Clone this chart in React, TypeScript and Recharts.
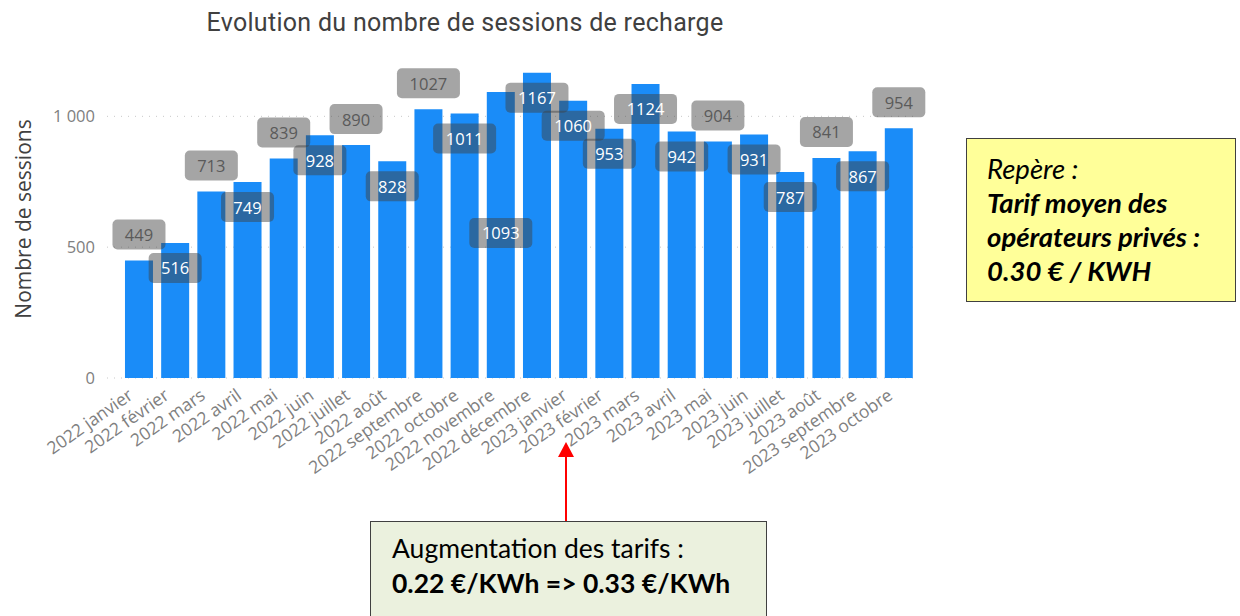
import { Bar, BarChart, CartesianGrid, LabelList, XAxis, YAxis } from "recharts";

const months = [
    "2022 janvier", "2022 février", "2022 mars", "2022 avril", "2022 mai", "2022 juin",
    "2022 juillet", "2022 août", "2022 septembre", "2022 octobre", "2022 novembre", "2022 décembre",
    "2023 janvier", "2023 février", "2023 mars", "2023 avril", "2023 mai", "2023 juin",
    "2023 juillet", "2023 août", "2023 septembre", "2023 octobre",
];

const sessions = [
    449, 516, 713, 749, 839, 928, 890, 828, 1027, 1011, 1093, 1167,
    1060, 953, 1124, 942, 904, 931, 787, 841, 867, 954,
];

const yTicks = [0, 500, 1000];

// where Power BI put each data label
const labelPlacement = [
    "above", "inside", "above", "inside", "above", "inside", "above", "inside", "above", "inside", "low", "inside",
    "inside", "inside", "inside", "inside", "above", "inside", "inside", "above", "inside", "above",
];

const data = months.map((month, i) => ({ month, value: sessions[i] }));

const BLUE = "#1A8CF8";

function ValueLabel(props: any) {
    const { x, y, width, value } = props;
    let index = props.index;
    if (index === undefined) index = sessions.indexOf(value);
    const place = labelPlacement[index];
    const cx = x + width / 2;
    const cy = place === "above" ? y - 26 : place === "low" ? y + 141 : y + 25;
    const w = String(value).length > 3 ? 63 : 53;
    const h = 30;
    return (
        <g>
            <rect x={cx - w / 2} y={cy - h / 2} width={w} height={h} rx={5} fill="#404040" fillOpacity={0.47} />
            <text
                x={cx}
                y={cy}
                textAnchor="middle"
                dominantBaseline="central"
                fontFamily="'Open Sans', sans-serif"
                fontSize={16.5}
                fill={place === "above" ? "#5a5a5a" : "#ffffff"}
            >
                {value}
            </text>
        </g>
    );
}

function MonthTick(props: any) {
    const { x, y, payload } = props;
    return (
        <g transform={`translate(${x - 5},${y + 12})`}>
            <text
                textAnchor="end"
                transform="rotate(-35)"
                fontFamily="'Open Sans', sans-serif"
                fontSize={17.5}
                fill="#808080"
            >
                {payload.value}
            </text>
        </g>
    );
}

export default function App() {
    return (
        <div style={{ position: "absolute", left: 0, top: 0, width: 1240, height: 616, overflow: "hidden", background: "#fff" }}>
            <div
                style={{
                    position: "absolute",
                    left: 0,
                    width: 930,
                    top: 8,
                    textAlign: "center",
                    fontFamily: "Roboto, sans-serif",
                    fontSize: 25,
                    color: "#404040",
                    letterSpacing: 0.3,
                }}
            >
                Evolution du nombre de sessions de recharge
            </div>
            <div
                style={{
                    position: "absolute",
                    left: 23,
                    top: 219,
                    transform: "translate(-50%, -50%) rotate(-90deg)",
                    whiteSpace: "nowrap",
                    fontFamily: "'Open Sans', sans-serif",
                    fontSize: 21,
                    color: "#404040",
                }}
            >
                Nombre de sessions
            </div>
            <div style={{ position: "absolute", left: 0, top: 0 }}>
                <BarChart
                    width={1240}
                    height={616}
                    data={data}
                    margin={{ top: 64, right: 323, bottom: 0, left: 47 }}
                    barCategoryGap="11%"
                >
                    <CartesianGrid vertical={false} horizontalValues={yTicks} stroke="#c8c8c8" strokeDasharray="1 6" />
                    <XAxis
                        dataKey="month"
                        interval={0}
                        axisLine={false}
                        tickLine={false}
                        padding={{ left: 14, right: 0 }}
                        tick={<MonthTick />}
                        height={238}
                    />
                    <YAxis
                        width={60}
                        domain={[0, 1200]}
                        ticks={yTicks}
                        axisLine={false}
                        tickLine={false}
                        tickSize={0}
                        tickMargin={12}
                        tick={{ fill: "#808080", fontSize: 16.5, fontFamily: "'Open Sans', sans-serif" }}
                        tickFormatter={(v) => (v >= 1000 ? "1 000" : `${v}`)}
                    />
                    <Bar dataKey="value" fill={BLUE} isAnimationActive={false}>
                        <LabelList dataKey="value" content={<ValueLabel />} />
                    </Bar>
                </BarChart>
            </div>
            <div
                style={{
                    position: "absolute",
                    left: 966,
                    top: 138,
                    width: 270,
                    height: 164,
                    boxSizing: "border-box",
                    background: "#FFFF99",
                    border: "1.5px solid #404040",
                    padding: "13px 0 0 20px",
                    fontFamily: "Lato, sans-serif",
                    fontSize: 27.5,
                    lineHeight: "34px",
                    fontStyle: "italic",
                    color: "#000",
                }}
            >
                <div>Repère :</div>
                <div style={{ fontWeight: 700 }}>Tarif moyen des</div>
                <div style={{ fontWeight: 700 }}>opérateurs privés :</div>
                <div style={{ fontWeight: 700 }}>0.30 € / KWH</div>
            </div>
            <svg style={{ position: "absolute", left: 0, top: 0 }} width={1240} height={616}>
                <line x1={566} y1={521} x2={566} y2={455} stroke="#FF0000" strokeWidth={2} />
                <polygon points="566,442 558,457 574,457" fill="#FF0000" />
            </svg>
            <div
                style={{
                    position: "absolute",
                    left: 370,
                    top: 521,
                    width: 397,
                    height: 110,
                    boxSizing: "border-box",
                    background: "#EBF1DE",
                    border: "1.5px solid #404040",
                    padding: "9px 0 0 21px",
                    fontFamily: "Lato, sans-serif",
                    fontSize: 26.5,
                    lineHeight: "35px",
                    color: "#000",
                }}
            >
                <div>Augmentation des tarifs :</div>
                <div style={{ fontWeight: 700 }}>0.22 €/KWh =&gt; 0.33 €/KWh</div>
            </div>
        </div>
    );
}
